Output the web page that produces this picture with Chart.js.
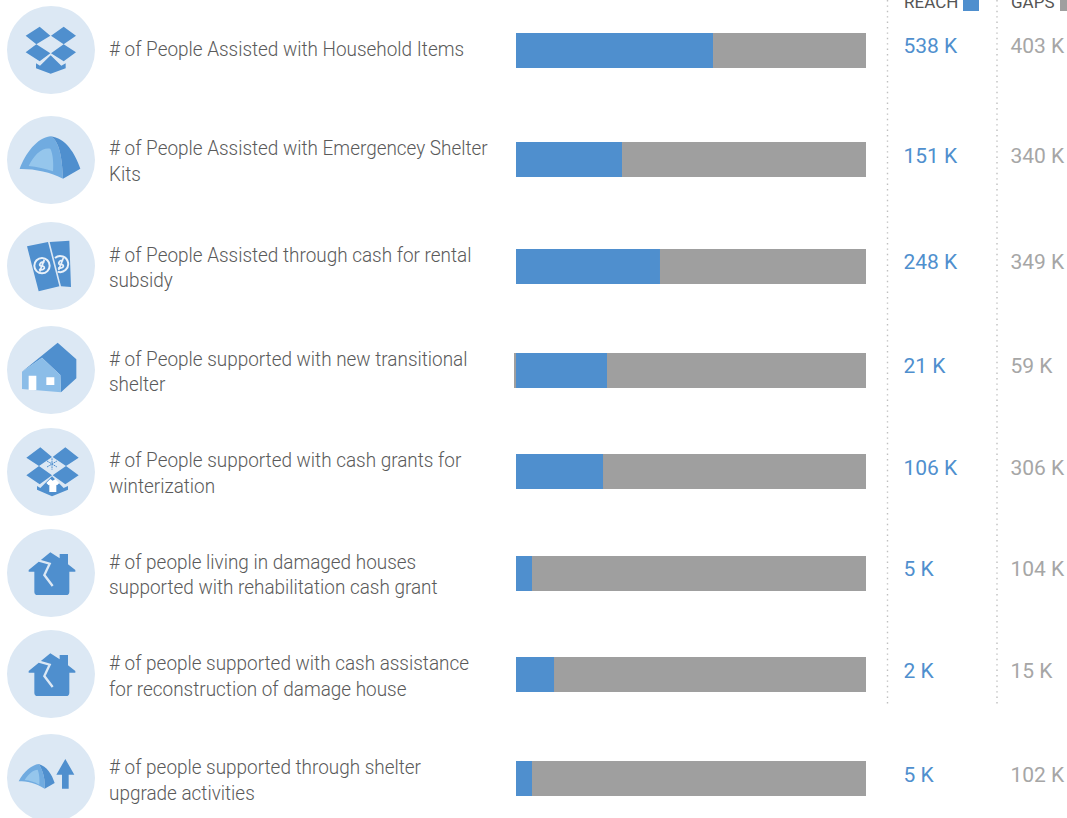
<!DOCTYPE html>
<html>
<head>
<meta charset="utf-8">
<title>Shelter reach and gaps</title>
<script src="https://cdn.jsdelivr.net/npm/chart.js@4"></script>
<style>
  html, body { margin: 0; padding: 0; background: #fff; overflow: hidden; }
  #page { position: relative; width: 1067px; height: 818px; overflow: hidden; font-family: Roboto, sans-serif; }
  .icon { position: absolute; left: 6.67px; width: 88px; height: 88px; }
  .label { position: absolute; left: 109px; width: 407px; height: 60px; display: flex; align-items: center;
           font-weight: 300; font-size: 20px; line-height: 25.5px; color: #5a5a5a; white-space: pre-line;
           transform: scaleX(0.946); transform-origin: left center; }
  .bar { position: absolute; left: 514px; width: 352px; height: 35px; }
  .value { position: absolute; font-size: 21px; line-height: 24px; white-space: nowrap; }
  .reach { left: 903.5px; color: #4f8fce; }
  .gaps { left: 1010.5px; color: #a6a6a6; }
  .head { position: absolute; top: -8px; font-size: 17px; line-height: 20px; color: #555; }
  .key { position: absolute; top: 0; width: 16px; height: 11px; }
  #rules { position: absolute; left: 0; top: 0; }
</style>
</head>
<body>
<div id="page"></div>
<script>
const categories = [
    "# of People Assisted with Household Items",
    "# of People Assisted with Emergencey Shelter\nKits",
    "# of People Assisted through cash for rental\nsubsidy",
    "# of People supported with new transitional\nshelter",
    "# of People supported with cash grants for\nwinterization",
    "# of people living in damaged houses\nsupported with rehabilitation cash grant",
    "# of people supported with cash assistance\nfor reconstruction of damage house",
    "# of people supported through shelter\nupgrade activities",
];
const reachLabels = ["538 K", "151 K", "248 K", "21 K", "106 K", "5 K", "2 K", "5 K"];
const gapLabels = ["403 K", "340 K", "349 K", "59 K", "306 K", "104 K", "15 K", "102 K"];

// share of each bar in percent
const reachShare = [56.29, 30.29, 41.14, 26, 24.86, 4.57, 10.86, 4.57];
const gapShare = [43.71, 69.71, 58.86, 74, 75.14, 95.43, 89.14, 95.43];
const leadShare = [0, 0, 0, -0.5714, 0, 0, 0, 0];

// page layout, top to bottom
const rowCenters = [50, 159.5, 266, 370, 471.5, 573, 674, 778];
const barTops = [33, 142, 249, 353, 454, 556, 657, 761];
const labelCenters = [50, 161.5, 268, 372, 473.5, 575, 676.5, 780.5];
const valueTops = [34, 144, 250, 354, 456, 557, 659, 763];

const BLUE = "#4f8fce";
const GREY = "#9f9f9f";
const PALE = "#dce8f4";
const RING = "#e9f1f9";

const dropbox = `
  <path fill="${BLUE}" d="M76 107L118 80L150 107L108 133Z M152 107L190 80L227 107L190 133Z M76 157L108 133L150 160L118 184Z M152 160L190 133L227 157L190 184Z M107 190L119 197L151 166L183 197L196 190L196 205L151 221L107 205Z"/>`;
const brokenHouse = `
  <path fill="${BLUE}" d="M85 750L150 697L178 715L178 702L203 702L203 733L225 750L225 755L207 755L207 815Q207 825 197 825L112 825Q102 825 102 815L102 755L85 755Z"/>
  <path fill="none" stroke="${PALE}" stroke-width="7" d="M116 722L148 731L132 765L157 798"/>`;

// inner drawing of each icon, with the viewBox origin that goes with it
const icons = [
    { x: 20, y: 18, svg: dropbox },
    { x: 20, y: 347, svg: `
      <path fill="#70abe0" d="M58 506C75 460 110 412 150 408C178 420 186 480 188 535C150 515 100 505 58 506Z"/>
      <path fill="${BLUE}" d="M150 408C195 412 225 460 240 505L188 535C186 480 178 420 150 408Z"/>
      <path fill="#95c6ec" d="M85 497C100 465 125 440 150 445C158 460 160 490 158 513C135 505 110 499 85 497Z"/>` },
    { x: 20, y: 667, svg: `
      <path fill="${BLUE}" d="M80 740L143 727L177 860L115 875Z M148 727L207 723L212 862L182 860Z"/>
      <circle cx="125" cy="798" r="23" fill="none" stroke="${RING}" stroke-width="6"/>
      <path fill="none" stroke="${RING}" stroke-width="5" d="M133 787Q122 785 118 795Q118 800 126 799Q133 800 132 806Q126 813 116 809 M132 780L118 816"/>
      <path fill="none" stroke="${RING}" stroke-width="6" d="M164 775A24 24 0 1 1 172 816"/>
      <path fill="none" stroke="${RING}" stroke-width="5" d="M189 782Q179 780 175 790Q175 795 183 794Q190 795 189 801Q183 808 173 804 M189 775L175 811"/>` },
    { x: 20, y: 18, svg: `
      <path fill="${BLUE}" d="M65 155L172 68L228 118L180 165L125 113Z M228 118L228 175L182 217L180 165Z"/>
      <path fill="#8bbde8" d="M65 155L125 113L180 165L182 217L65 207Z"/>
      <path fill="#fff" d="M85 167H108V210H85Z M138 172H162V195H138Z"/>` },
    { x: 20, y: 323, svg: `
      <path fill="${BLUE}" d="M78 412L120 381L155 410L116 437Z M157 410L195 381L235 412L197 437Z M78 465L116 437L155 465L118 492Z M157 465L197 437L235 465L195 492Z M110 497L120 503L155 468L190 503L203 497L203 508L155 528L110 508Z"/>
      <path fill="none" stroke="${BLUE}" stroke-width="3" stroke-dasharray="6 2" d="M155 414V448 M140 422L170 440 M140 440L170 422"/>
      <path fill="#fff" d="M150 476L157 481L165 476L177 488L170 495L168 493V515H147V493L145 495L138 488Z"/>` },
    { x: 20, y: 627, svg: brokenHouse },
    { x: 20, y: 627, svg: brokenHouse },
    { x: 20, y: 343, svg: `
      <path fill="#70abe0" d="M55 485C70 455 95 436 115 433C130 455 135 485 133 507C105 490 80 485 55 485Z"/>
      <path fill="${BLUE}" d="M115 433C140 440 155 465 163 490L133 507C135 485 130 455 115 433Z"/>
      <path fill="#95c6ec" d="M73 481C85 462 100 450 112 450C118 465 118 485 117 495C102 487 88 482 73 481Z"/>
      <path fill="${BLUE}" d="M195 418L222 465H205V507H185V465H168Z"/>` },
];

const page = document.getElementById("page");

function addDiv(className, css, text) {
    const el = document.createElement("div");
    el.className = className;
    el.style.cssText = css;
    if (text) el.textContent = text;
    page.appendChild(el);
    return el;
}

function renderRowChart(holder, i) {
    const canvas = document.createElement("canvas");
    holder.appendChild(canvas);
    new Chart(canvas, {
        type: "bar",
        data: {
            labels: [categories[i]],
            datasets: [
                { label: "Lead", data: [leadShare[i]], backgroundColor: GREY },
                { label: "Reach", data: [reachShare[i]], backgroundColor: BLUE },
                { label: "Gaps", data: [gapShare[i]], backgroundColor: GREY },
            ],
        },
        options: {
            indexAxis: "y",
            responsive: true,
            maintainAspectRatio: false,
            animation: false,
            barPercentage: 1,
            categoryPercentage: 1,
            inflateAmount: 0,
            plugins: { legend: { display: false }, tooltip: { enabled: false } },
            scales: {
                x: { stacked: true, display: false, min: -0.5714, max: 100 },
                y: { stacked: true, display: false },
            },
        },
    });
}

document.addEventListener("DOMContentLoaded", function () {
    // dotted rules behind the two value columns
    page.insertAdjacentHTML("beforeend", `
      <svg id="rules" width="1067" height="818">
        <line x1="887.5" y1="0" x2="887.5" y2="705" stroke="#bfbfbf" stroke-width="1.4" stroke-dasharray="1.4 4"/>
        <line x1="997" y1="0" x2="997" y2="705" stroke="#bfbfbf" stroke-width="1.4" stroke-dasharray="1.4 4"/>
      </svg>`);

    addDiv("head", "left:904px", "REACH");
    addDiv("key", `left:963px;background:${BLUE}`);
    addDiv("head", "left:1011px", "GAPS");
    addDiv("key", `left:1060px;background:${GREY}`);

    categories.forEach(function (name, i) {
        const icon = icons[i];
        page.insertAdjacentHTML("beforeend", `
          <svg class="icon" style="top:${rowCenters[i] - 44}px" viewBox="${icon.x} ${icon.y} 264 264">
            <circle cx="${icon.x + 132}" cy="${icon.y + 132}" r="132" fill="${PALE}"/>${icon.svg}
          </svg>`);
        addDiv("label", `top:${labelCenters[i] - 30}px`, name);
        renderRowChart(addDiv("bar", `top:${barTops[i]}px`), i);
        addDiv("value reach", `top:${valueTops[i]}px`, reachLabels[i]);
        addDiv("value gaps", `top:${valueTops[i]}px`, gapLabels[i]);
    });
});
</script>
</body>
</html>
